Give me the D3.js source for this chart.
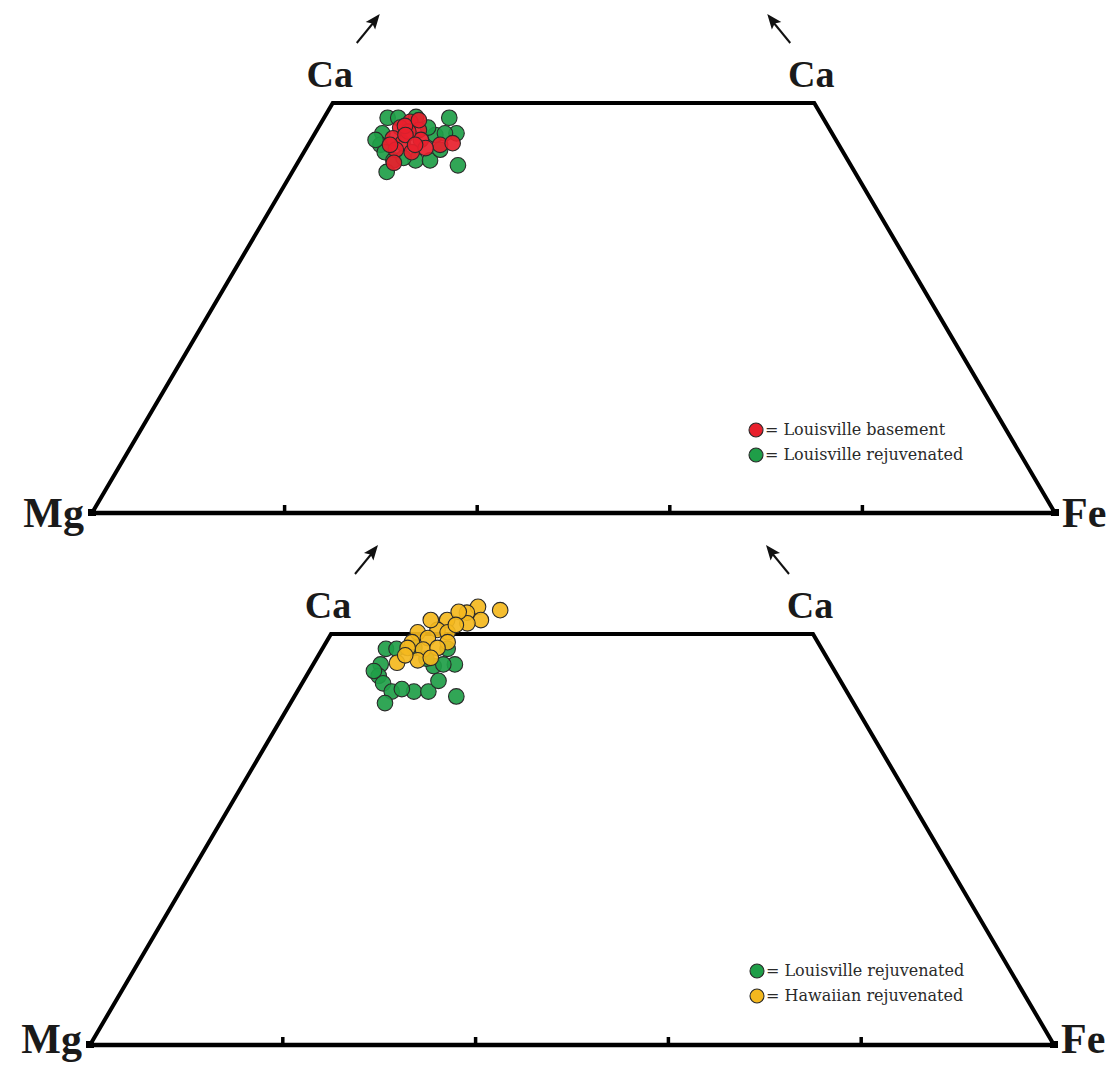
<!DOCTYPE html>
<html>
<head>
<meta charset="utf-8">
<script src="https://cdn.jsdelivr.net/npm/d3@7"></script>
<style>
  html, body { margin: 0; padding: 0; background: #fff; }
  svg { display: block; }
</style>
</head>
<body>
<svg id="chart" width="1119" height="1065"></svg>
<script>
// Pyroxene compositions as [Ca (Wo%), Fe (Fs%)]; Mg (En%) is the remainder.
const louisvilleBasement = [
  [47.7, 9.2], [47.0, 8.5], [46.7, 10.6], [45.7, 8.4], [45.1, 9.7],
  [45.5, 11.4], [44.3, 9.4], [44.0, 11.2], [44.9, 13.7], [45.1, 14.9],
  [42.7, 10.0], [46.5, 9.6], [44.5, 12.4], [47.2, 8.9], [46.1, 9.5],
  [44.9, 11.1], [44.9, 8.5], [47.9, 10.0]
];
const louisvilleRejuvenated = [
  [48.2, 6.6], [48.3, 9.5], [48.2, 13.0], [46.3, 14.7], [46.3, 7.0],
  [44.9, 7.5], [44.0, 8.4], [43.0, 9.8], [43.0, 12.1], [43.0, 13.6],
  [42.4, 16.8], [41.6, 9.8], [46.1, 12.6], [46.3, 13.5], [47.0, 11.4],
  [48.2, 7.7], [43.3, 10.7], [44.3, 14.0], [45.5, 6.7]
];
const hawaiianRejuvenated = [
  [52.9, 16.1], [53.3, 13.6], [52.6, 12.8], [51.7, 14.7], [51.3, 13.5],
  [51.7, 11.2], [50.5, 10.8], [50.2, 12.0], [50.2, 8.9], [49.5, 10.3],
  [49.0, 8.9], [49.0, 12.6], [48.1, 10.5], [48.3, 8.8], [46.8, 10.6],
  [46.5, 8.6], [48.3, 11.9], [47.1, 11.8], [52.7, 11.9], [51.1, 12.4],
  [51.7, 9.5], [47.4, 9.0]
];
const baseTicks = [20, 40, 60, 80];
const endMembers = { left: "Mg", right: "Fe", top: "Ca" };

const colors = {
  basement: "#e8202c",
  louisville: "#1f9e48",
  hawaiian: "#f4b81e"
};

const svg = d3.select("#chart");
const labelFont = "'Liberation Serif', 'Times New Roman', serif";
const legendFont = "'DejaVu Serif', serif";

function drawPanel(cfg) {
  const g = svg.append("g");
  // horizontal position along the Mg–Fe join, vertical = Wo content (0..50)
  const x = d3.scaleLinear().domain([0, 100]).range([cfg.x0, cfg.x1]);
  const y = d3.scaleLinear().domain([0, 50]).range([cfg.base, cfg.top]);
  const px = d => x(d[1] + d[0] / 2);
  const py = d => y(d[0]);

  // quadrilateral outline: Mg – Di – Hd – Fe
  const outline = [[0, 0], [50, 0], [50, 50], [0, 100]]
    .map(([ca, fe]) => [px([ca, fe]), py([ca, fe])]);
  g.append("path")
    .attr("d", d3.line()(outline))
    .attr("fill", "none")
    .attr("stroke", "#000")
    .attr("stroke-width", 4)
    .attr("stroke-linejoin", "miter");
  g.append("line")
    .attr("x1", x(0) - 2).attr("x2", x(100) + 2)
    .attr("y1", y(0)).attr("y2", y(0))
    .attr("stroke", "#000").attr("stroke-width", 4.5);
  // corner caps
  [0, 100].forEach(v => {
    g.append("rect")
      .attr("x", x(v) - 4).attr("y", y(0) - 4)
      .attr("width", 8).attr("height", 7)
      .attr("fill", "#000");
  });

  // ticks on the base
  g.selectAll(".tick").data(baseTicks).join("line")
    .attr("x1", d => x(d)).attr("x2", d => x(d))
    .attr("y1", y(0)).attr("y2", y(0) - 8)
    .attr("stroke", "#000").attr("stroke-width", 3.5);

  // end-member labels
  g.append("text").text(endMembers.left)
    .attr("x", x(0) - 8).attr("y", y(0) + cfg.labelDy)
    .attr("text-anchor", "end")
    .attr("font-family", labelFont).attr("font-weight", "bold")
    .attr("font-size", 42).attr("fill", "#1a1a1a");
  g.append("text").text(endMembers.right)
    .attr("x", x(100) + 7).attr("y", y(0) + cfg.labelDy)
    .attr("text-anchor", "start")
    .attr("font-family", labelFont).attr("font-weight", "bold")
    .attr("font-size", 42).attr("fill", "#1a1a1a");

  const leftTop = [px([50, 0]), py([50, 0])];
  const rightTop = [px([50, 50]), py([50, 50])];
  [[leftTop, -3, 1], [rightTop, -3, -1]].forEach(([p, dx, dir]) => {
    g.append("text").text(endMembers.top)
      .attr("x", p[0] + dx).attr("y", p[1] - 16)
      .attr("text-anchor", "middle")
      .attr("font-family", labelFont).attr("font-weight", "bold")
      .attr("font-size", 38).attr("fill", "#1a1a1a");
    // arrow toward the Ca apex
    const sx = p[0] + dir * 24, sy = p[1] - 60;
    const ex = p[0] + dir * 47, ey = p[1] - 89;
    g.append("line")
      .attr("x1", sx).attr("y1", sy).attr("x2", ex - dir * 5).attr("y2", ey + 7)
      .attr("stroke", "#111").attr("stroke-width", 2);
    const ang = Math.atan2(ey - sy, ex - sx);
    const L = 15, W = 6;
    const bx = ex - L * Math.cos(ang), by = ey - L * Math.sin(ang);
    const head = [
      [ex, ey],
      [bx + W * Math.sin(ang), by - W * Math.cos(ang)],
      [bx + 3 * Math.cos(ang), by + 3 * Math.sin(ang)],
      [bx - W * Math.sin(ang), by + W * Math.cos(ang)]
    ];
    g.append("path").attr("d", d3.line()(head) + "Z").attr("fill", "#111");
  });

  // data points, drawn in series order
  cfg.series.forEach(s => {
    g.append("g").selectAll("circle").data(s.data).join("circle")
      .attr("cx", px).attr("cy", py).attr("r", 7.8)
      .attr("fill", s.color)
      .attr("fill-opacity", 0.92)
      .attr("stroke", "#2a2a2a").attr("stroke-width", 1.1);
  });

  // legend, in its own order
  const legend = g.append("g")
    .attr("transform", `translate(${cfg.legendX},${cfg.legendY})`);
  const entries = cfg.series.slice().sort((a, b) => a.legendOrder - b.legendOrder);
  entries.forEach((s, i) => {
    const row = legend.append("g").attr("transform", `translate(0,${i * 25})`);
    row.append("circle").attr("r", 7).attr("cx", 0).attr("cy", 0)
      .attr("fill", s.color).attr("stroke", "#2a2a2a").attr("stroke-width", 1.1);
    row.append("text").text("= " + s.name)
      .attr("x", 9).attr("y", 5)
      .attr("font-family", legendFont)
      .attr("font-size", 16).attr("fill", "#2a2a2a");
  });
}

drawPanel({
  x0: 92, x1: 1055, base: 513, top: 103,
  legendX: 756, legendY: 430, labelDy: 14,
  series: [
    { name: "Louisville rejuvenated", data: louisvilleRejuvenated, color: colors.louisville, legendOrder: 1 },
    { name: "Louisville basement", data: louisvilleBasement, color: colors.basement, legendOrder: 0 }
  ]
});

drawPanel({
  x0: 90, x1: 1054, base: 1045, top: 634,
  legendX: 757, legendY: 971, labelDy: 8,
  series: [
    { name: "Louisville rejuvenated", data: louisvilleRejuvenated, color: colors.louisville, legendOrder: 0 },
    { name: "Hawaiian rejuvenated", data: hawaiianRejuvenated, color: colors.hawaiian, legendOrder: 1 }
  ]
});
</script>
</body>
</html>
